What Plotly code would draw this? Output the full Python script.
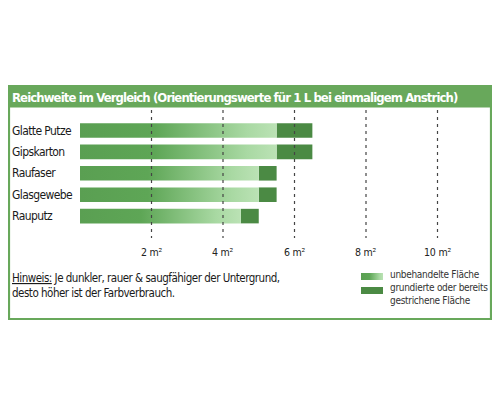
import plotly.graph_objects as go

# Reichweite pro Liter, Werte in m²
kategorien = ["Glatte Putze", "Gipskarton", "Raufaser", "Glasgewebe", "Rauputz"]
unbehandelt = [5.5, 5.5, 5.0, 5.0, 4.5]
grundiert = [6.5, 6.5, 5.5, 5.5, 5.0]
tick_werte = [2, 4, 6, 8, 10]
tick_texte = ["2 m²", "4 m²", "6 m²", "8 m²", "10 m²"]

titel = "Reichweite im Vergleich (Orientierungswerte für 1 L bei einmaligem Anstrich)"
hinweis = ["<u>Hinweis:</u> Je dunkler, rauer & saugfähiger der Untergrund,",
           "desto höher ist der Farbverbrauch."]
legende = ["unbehandelte Fläche", "grundierte oder bereits", "gestrichene Fläche"]

GRUEN = "#68a85b"
DUNKEL = "#4b8a44"
VERLAUF = [[0, "#5a9f52"], [0.38, "#5ea656"], [0.85, "#a9d9a3"], [1, "#bbe2b5"]]
FONT = "DejaVu Sans Condensed, DejaVu Sans, sans-serif"

W, H = 500, 400
RAND = 8  # body margin of the html page
# page pixel layout: x=0 at 80px, 35.75px per m²; first bar centre at 130.5px, 21.4px step
X0, XS = 80.0, 35.75
Y0, YS = 130.5, 21.4
HALB = 0.34


def px_x(p):
    return (p - X0) / XS


def px_y(p):
    return (p - Y0) / YS


def schrift(size, color):
    return dict(size=size, color=color, family=FONT)


def eng(text, sp):
    # enger gesetzter Text (Vorlage nutzt eine schmale Schrift)
    return "<span style='letter-spacing:%spx'>%s</span>" % (sp, text)


fig = go.Figure()


def balken(x_end, i, start=0, grad=None):
    fig.add_trace(go.Scatter(
        x=[start, x_end, x_end, start, start],
        y=[i - HALB, i - HALB, i + HALB, i + HALB, i - HALB],
        mode="lines", line=dict(width=0), fill="toself",
        fillcolor=DUNKEL if grad is None else None,
        fillgradient=grad, hoverinfo="skip", showlegend=False,
    ))


for i, name in enumerate(kategorien):
    # dunkler Teil (grundierte Fläche)
    balken(grundiert[i], i, start=unbehandelt[i])
    # Verlauf (unbehandelte Fläche)
    balken(unbehandelt[i], i, grad=dict(type="horizontal", colorscale=VERLAUF,
                                         start=0, stop=unbehandelt[i]))
    fig.add_annotation(x=px_x(10), y=i, text=eng(name, -0.6), showarrow=False,
                       xanchor="left", font=schrift(12, "#1a1a1a"))

shapes = []
for t in tick_werte:
    shapes.append(dict(type="line", xref="x", yref="y", x0=t, x1=t,
                       y0=px_y(110), y1=px_y(238),
                       line=dict(color="#444", width=1.2, dash="3px,4px"), layer="above"))
for t, s in zip(tick_werte, tick_texte):
    fig.add_annotation(x=t, y=px_y(252), text=eng(s, -0.2), showarrow=False,
                       font=schrift(10.5, "#222"))

# Rahmen und Kopfzeile
shapes.append(dict(type="rect", xref="x", yref="y", x0=px_x(9), x1=px_x(491),
                   y0=px_y(86), y1=px_y(319), line=dict(color=GRUEN, width=2.2),
                   layer="below"))
shapes.append(dict(type="rect", xref="x", yref="y", x0=px_x(0), x1=px_x(492),
                   y0=px_y(86), y1=px_y(107.5), line=dict(width=0), fillcolor=GRUEN,
                   layer="below"))
fig.add_annotation(x=px_x(10), y=px_y(97), text="<b>" + eng(titel, -0.9) + "</b>",
                   showarrow=False, xanchor="left", font=schrift(13, "white"))

fig.add_annotation(x=px_x(10), y=px_y(269), text="<br>".join(eng(z, -0.5) for z in hinweis),
                   showarrow=False, xanchor="left", yanchor="top", align="left",
                   font=schrift(11.5, "#1a1a1a"))

# Legende
fig.add_trace(go.Scatter(
    x=[px_x(361), px_x(383), px_x(383), px_x(361), px_x(361)],
    y=[px_y(273), px_y(273), px_y(280), px_y(280), px_y(273)],
    mode="lines", line=dict(width=0), fill="toself",
    fillgradient=dict(type="horizontal", colorscale=VERLAUF), hoverinfo="skip",
    showlegend=False))
shapes.append(dict(type="rect", xref="x", yref="y", x0=px_x(361), x1=px_x(383),
                   y0=px_y(287), y1=px_y(294), line=dict(width=0), fillcolor=DUNKEL))
fig.add_annotation(x=px_x(388), y=px_y(266.5), text="<br>".join(eng(z, -0.3) for z in legende),
                   showarrow=False, xanchor="left", yanchor="top", align="left",
                   font=schrift(10, "#333"))

fig.update_layout(
    width=W - 2 * RAND, height=H - 2 * RAND, margin=dict(l=0, r=0, t=0, b=0),
    paper_bgcolor="white", plot_bgcolor="white", shapes=shapes,
    xaxis=dict(range=[px_x(RAND), px_x(W - RAND)], visible=False, fixedrange=True),
    yaxis=dict(range=[px_y(H - RAND), px_y(RAND)], visible=False, fixedrange=True),
)

fig.write_html("out.html")
